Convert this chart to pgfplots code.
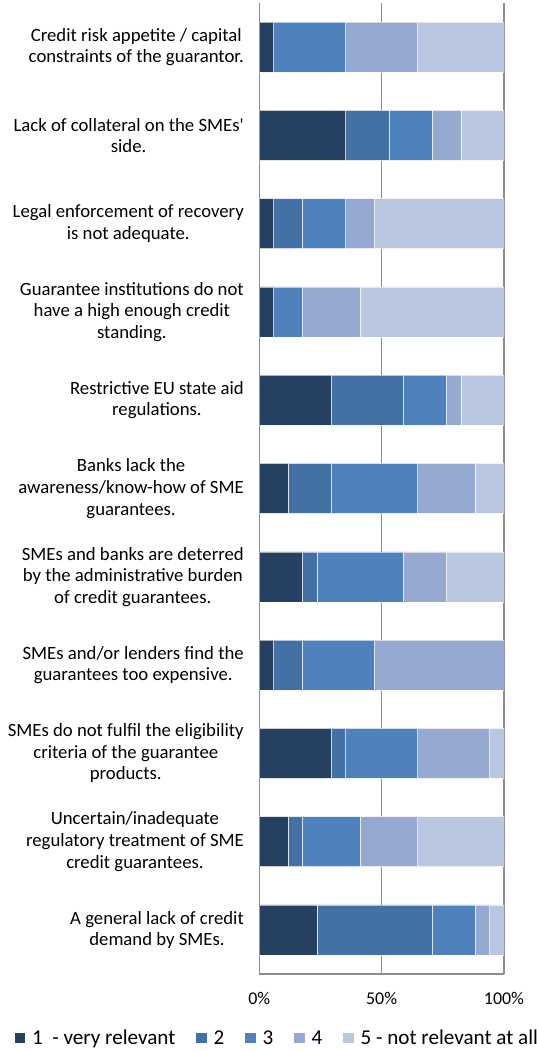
\documentclass[border=0pt]{standalone}
\usepackage{fontspec}
\setmainfont{Carlito}
\usepackage{pgfplots}
\pgfplotsset{compat=1.18}
\definecolor{cA}{RGB}{37,64,97}
\definecolor{cB}{RGB}{67,113,166}
\definecolor{cC}{RGB}{79,129,189}
\definecolor{cD}{RGB}{149,169,209}
\definecolor{cE}{RGB}{186,199,224}
\definecolor{gridc}{RGB}{140,140,140}
\begin{document}
\begin{tikzpicture}
\begin{axis}[
  name=ax,
  scale only axis,
  width=244.7bp, height=971bp,
  xbar stacked, bar width=50bp,
  xmin=0, xmax=100, ymin=-0.5, ymax=10.5,
  axis x line*=bottom, axis y line*=left,
  axis line style={draw=gridc, line width=1.2bp},
  xmajorgrids, grid style={draw=gridc, line width=1.2bp},
  major tick length=0,
  xtick={0,50,100}, xticklabels={0\%,50\%,100\%},
  xticklabel style={font=\fontsize{18}{21}\selectfont, yshift=-15bp},
  ytick={0,...,10},
  yticklabels={
    {A general lack of credit\\demand by SMEs.},
    {Uncertain/inadequate\\regulatory treatment of SME\\credit guarantees.},
    {SMEs do not fulfil the eligibility\\criteria of the guarantee\\products.},
    {SMEs and/or lenders find the\\guarantees too expensive.},
    {SMEs and banks are deterred\\by the administrative burden\\of credit guarantees.},
    {Banks lack the\\awareness/know-how of SME\\guarantees.},
    {Restrictive EU state aid\\regulations.},
    {Guarantee institutions do not\\have a high enough credit\\standing.},
    {Legal enforcement of recovery\\is not adequate.},
    {Lack of collateral on the SMEs\textquotesingle\\side.},
    {Credit risk appetite / capital\\constraints of the guarantor.}},
  yticklabel style={align=center, font=\fontsize{18.8}{21.7}\selectfont, xshift=-12bp},
  every axis plot/.append style={draw=white, line width=0.5bp, draw opacity=0.6},
  legend columns=-1,
  legend style={at={(0.0699,-0.0659)}, anchor=center, draw=none,
    font=\fontsize{21.2}{23}\selectfont,
    nodes={inner sep=0pt},
    /tikz/every odd column/.append style={column sep=7bp},
    /tikz/every even column/.append style={column sep=21bp}},
  legend image code/.code={\fill[#1, draw=none] (0bp,-5bp) rectangle (10.3bp,5.3bp);},
]
\addplot[fill=cA] coordinates {(5.882,10) (35.294,9) (5.882,8) (5.882,7) (29.412,6) (11.765,5) (17.647,4) (5.882,3) (29.412,2) (11.765,1) (23.529,0)};
\addplot[fill=cB] coordinates {(0,10) (17.647,9) (11.765,8) (0,7) (29.412,6) (17.647,5) (5.882,4) (11.765,3) (5.882,2) (5.882,1) (47.059,0)};
\addplot[fill=cC] coordinates {(29.412,10) (17.647,9) (17.647,8) (11.765,7) (17.647,6) (35.294,5) (35.294,4) (29.412,3) (29.412,2) (23.529,1) (17.647,0)};
\addplot[fill=cD] coordinates {(29.412,10) (11.765,9) (11.765,8) (23.529,7) (5.882,6) (23.529,5) (17.647,4) (52.941,3) (29.412,2) (23.529,1) (5.882,0)};
\addplot[fill=cE] coordinates {(35.294,10) (17.647,9) (52.941,8) (58.824,7) (17.647,6) (11.765,5) (23.529,4) (0,3) (5.882,2) (35.294,1) (5.882,0)};
\legend{1\ \ - very relevant,2,3,4,5 - not relevant at all}
\end{axis}
\pgfresetboundingbox
\path[use as bounding box] ([shift={(-259.3bp,-77bp)}]ax.south west) rectangle ([shift={(277.7bp,974bp)}]ax.south west);
\end{tikzpicture}
\end{document}
